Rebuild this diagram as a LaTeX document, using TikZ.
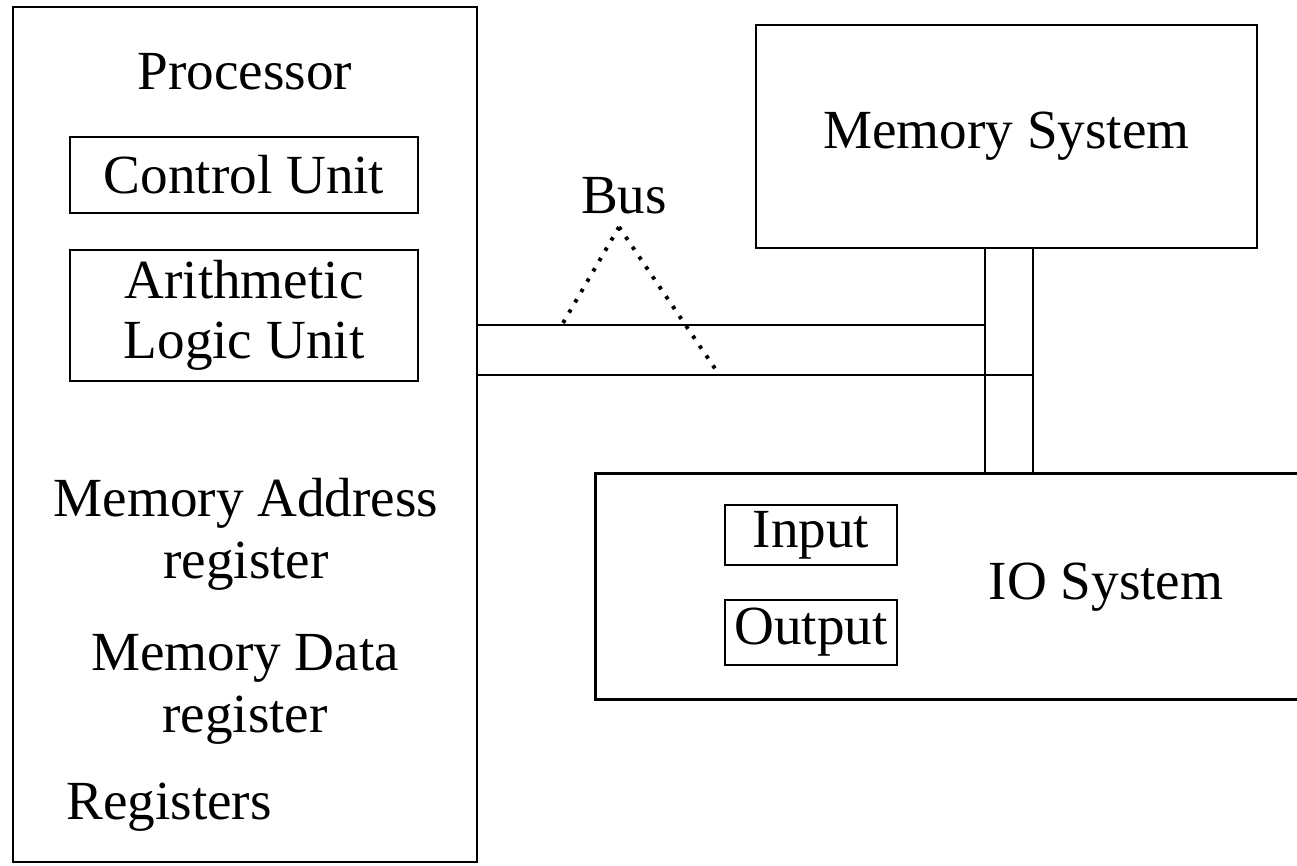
\documentclass[tikz,border=0pt]{standalone}
\usepackage{fontspec}
\setmainfont{Liberation Serif}
\begin{document}
\begin{tikzpicture}[font=\fontsize{15.7}{17}\selectfont, line width=0.8pt]

        \useasboundingbox (0,0) rectangle (12.97,-8.65);

        \begin{scope}[every node/.style={draw,rectangle,inner sep=0pt}]
          \node (proc) at (2.45,-4.345)   [minimum width=4.64cm,minimum height=8.55cm] {};
          \node (cu)   at (2.44,-1.75)    [minimum width=3.48cm,minimum height=0.76cm] {Control Unit};
          \node (alu)  at (2.44,-3.155)   [minimum width=3.48cm,minimum height=1.31cm,align=center] {Arithmetic\\Logic Unit};
          \node (mem)  at (10.065,-1.365) [minimum width=5.01cm,minimum height=2.23cm] {Memory System};
          \node (in)   at (8.11,-5.35)    [minimum width=1.72cm,minimum height=0.6cm] {Input};
          \node (out)  at (8.11,-6.325)   [minimum width=1.72cm,minimum height=0.65cm] {Output};
        \end{scope}

        \node (io) at (9.62,-5.865) [minimum width=7.3cm,minimum height=2.23cm] {};
        \draw (io.north east) -- (io.north west) -- (io.south west) -- (io.south east);

        \begin{scope}[every node/.style={align=center}]
          \node (ptitle)  at (2.45,-0.72)  {Processor};
          \node (mar)     at (2.46,-5.345) {Memory Address\\[0.6pt]register};
          \node (mdr)     at (2.45,-6.895) {Memory Data\\[0.6pt]register};
          \node (regs)    at (1.69,-8.07)  {Registers};
          \node (iotitle) at (11.06,-5.87) {IO System};
          \node (bus)     at (6.24,-1.96)  {Bus};
        \end{scope}

        \coordinate (busL) at (9.85,-3.25);
        \coordinate (busR) at (10.33,-3.75);
        \draw (proc.east |- busL) -- (busL);
        \draw (proc.east |- busR) -- (busR);
        \draw (mem.south -| busL) -- (io.north -| busL);
        \draw (mem.south -| busR) -- (io.north -| busR);

        \coordinate (apex) at (6.19,-2.27);
        \coordinate (tipL) at (5.63,-3.23);
        \coordinate (tipR) at (7.16,-3.70);
        \begin{scope}[dash pattern=on 1pt off 2.4pt, line width=1.1pt]
          \draw (apex) -- (tipL);
          \draw (apex) -- (tipR);
        \end{scope}

      \end{tikzpicture}
\end{document}
